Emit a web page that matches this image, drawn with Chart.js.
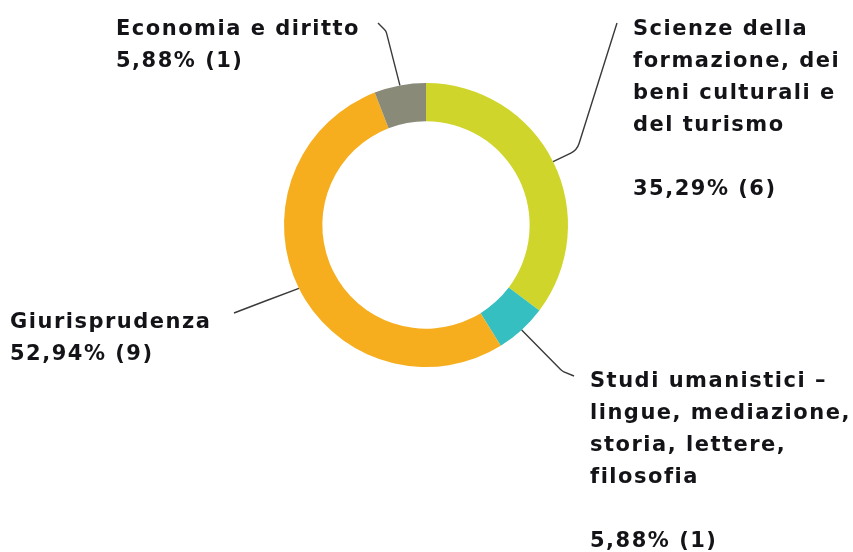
<!DOCTYPE html>
<html lang="it">
<head>
<meta charset="UTF-8">
<title>Doughnut</title>
<style>
  html, body { margin: 0; padding: 0; background: #fff; }
  #chart { display: block; }
</style>
</head>
<body>
<canvas id="chart" width="853" height="552"></canvas>
<script src="https://cdn.jsdelivr.net/npm/chart.js"></script>
<script>
// data
const categories = [
    'Scienze della formazione, dei beni culturali e del turismo',
    'Studi umanistici – lingue, mediazione, storia, lettere, filosofia',
    'Giurisprudenza',
    'Economia e diritto'
];
const wrappedNames = [
    ['Scienze della', 'formazione, dei', 'beni culturali e', 'del turismo'],
    ['Studi umanistici –', 'lingue, mediazione,', 'storia, lettere,', 'filosofia'],
    ['Giurisprudenza'],
    ['Economia e diritto']
];
const counts = [6, 1, 9, 1];
const sliceColors = ['#cfd52a', '#35bfc0', '#f6ae1f', '#8a8a78'];

// label placement (pixels), one per slice
const labelBoxes = [
    { x: 633, y: 35, gap: true, elbow: [577, 150], end: [617, 23], r: 16 },
    { x: 590, y: 387, gap: true, elbow: [562, 371], end: [574, 376], r: 10 },
    { x: 10, y: 328, gap: false, elbow: [268, 300], end: [234, 313], r: 30 },
    { x: 116, y: 35, gap: false, elbow: [386, 31], end: [378, 23], r: 8 }
];

const total = counts.reduce((a, b) => a + b, 0);
function pctText(v) {
    return (v / total * 100).toFixed(2).replace('.', ',') + '% (' + v + ')';
}

const leaderLabels = {
    id: 'leaderLabels',
    afterDraw(chart) {
        const ctx = chart.ctx;
        const meta = chart.getDatasetMeta(0);
        meta.data.forEach((arc, i) => {
            const box = labelBoxes[i];
            const mid = (arc.startAngle + arc.endAngle) / 2;
            const p0x = arc.x + Math.cos(mid) * arc.outerRadius;
            const p0y = arc.y + Math.sin(mid) * arc.outerRadius;

            ctx.save();
            ctx.strokeStyle = '#3a3a3a';
            ctx.lineWidth = 1.4;
            ctx.beginPath();
            ctx.moveTo(p0x, p0y);
            ctx.arcTo(box.elbow[0], box.elbow[1], box.end[0], box.end[1], box.r);
            ctx.lineTo(box.end[0], box.end[1]);
            ctx.stroke();

            ctx.fillStyle = '#141418';
            ctx.font = 'bold 21px "DejaVu Sans"';
            ctx.letterSpacing = '1.5px';
            ctx.textAlign = 'left';
            ctx.textBaseline = 'alphabetic';
            const lines = wrappedNames[i].slice();
            if (box.gap) lines.push('');
            lines.push(pctText(counts[i]));
            lines.forEach((t, k) => {
                ctx.fillText(t, box.x, box.y + k * 32);
            });
            ctx.restore();
        });
    }
};

new Chart(document.getElementById('chart'), {
    type: 'doughnut',
    data: {
        labels: categories,
        datasets: [{
            data: counts,
            backgroundColor: sliceColors,
            borderWidth: 0
        }]
    },
    options: {
        responsive: false,
        animation: false,
        cutout: '73%',
        layout: { padding: { left: 284, right: 285, top: 83, bottom: 185 } },
        plugins: {
            legend: { display: false },
            tooltip: { enabled: false }
        }
    },
    plugins: [leaderLabels]
});
</script>
</body>
</html>
